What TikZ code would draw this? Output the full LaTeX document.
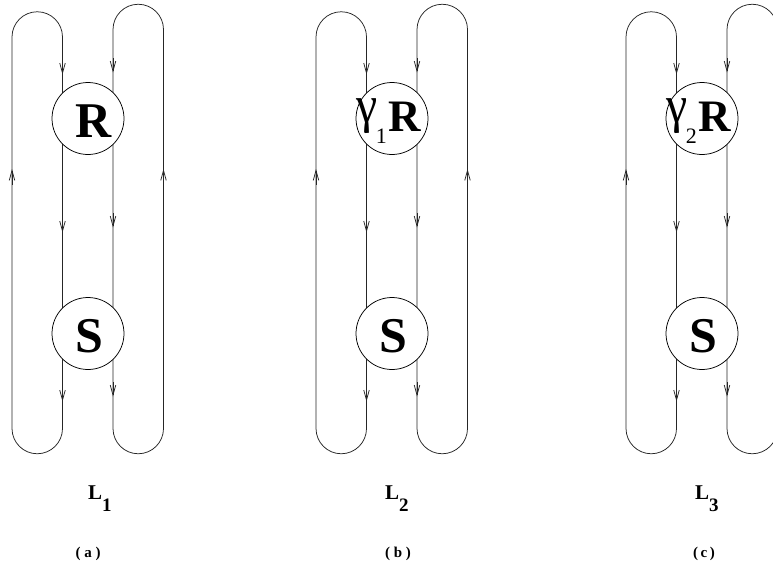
\documentclass[tikz,border=0pt]{standalone}
\usepackage{fontspec}
\usepackage{graphicx}
\setmainfont{Liberation Serif}
\usetikzlibrary{arrows.meta}
\tikzset{
  strand/.style={line width=0.75pt, draw=black!85},
  ring/.style={circle, draw=black, fill=white, minimum size=72pt, inner sep=0pt, line width=0.75pt},
  arrowmark/.style={line width=0.75pt, draw=black!85, -{Straight Barb[length=10pt,width=5.5pt]}},
  bigletter/.style={anchor=base, inner sep=0pt, font=\fontsize{50}{50}\selectfont\bfseries},
  gammatext/.style={anchor=base west, inner sep=0pt},
  looplabel/.style={anchor=base west, inner sep=0pt, font=\fontsize{21}{21}\selectfont\bfseries},
  panellabel/.style={anchor=base, inner sep=0pt, font=\fontsize{15}{15}\selectfont\bfseries}
}
\newcommand\gammaglyph{\raisebox{9pt}{\scalebox{0.92}[1]{\fontsize{52}{52}\selectfont γ}}}
\newcommand\drawstrands[2]{%
  % #1 = centre x of the panel, #2 = name prefix
  \coordinate (#2-lt) at (#1-76,37);
  \coordinate (#2-lb) at (#1-76,428.5);
  \coordinate (#2-il) at (#1-25.5,428.5);
  \coordinate (#2-rt) at (#1+25,29.5);
  \coordinate (#2-rb) at (#1+75.5,428.5);
  \draw[strand] (#2-lb) -- (#2-lt) arc[start angle=180,end angle=360,radius=25.25]
     -- (#2-il) arc[start angle=0,end angle=180,radius=25.25] -- cycle;
  \draw[strand] (#2-rt) arc[start angle=180,end angle=360,radius=25.25]
     -- (#2-rb) arc[start angle=0,end angle=180,radius=25.25] -- cycle;
  % arrows on the strands
  \draw[arrowmark] (#1-76,185) -- (#1-76,169);
  \draw[arrowmark] (#1+75.5,185) -- (#1+75.5,169);
  \draw[arrowmark] (#1-25.5,60) -- (#1-25.5,74.5);
  \draw[arrowmark] (#1+25,58) -- (#1+25,72.5);
  \draw[arrowmark] (#1-25.5,218) -- (#1-25.5,232.5);
  \draw[arrowmark] (#1+25,213) -- (#1+25,227.5);
  \draw[arrowmark] (#1-25.5,387) -- (#1-25.5,401.5);
  \draw[arrowmark] (#1+25,382) -- (#1+25,396.5);
  % the two discs
  \node[ring] (#2-R) at (#1,118.5) {};
  \node[ring] (#2-S) at (#1,333.5) {};
}
\begin{document}
\begin{tikzpicture}[x=1pt,y=-1pt]
\clip (0,0) rectangle (773,560);
\fill[white] (0,0) rectangle (773,560);

% panel (a)
\drawstrands{88}{a}
\node[bigletter] (a-Rt) at (94,137.3) {R};
\node[bigletter] (a-St) at (89.5,352) {S};
\node[looplabel] (a-L) at (88,499) {L\raisebox{-12pt}{\fontsize{19}{19}\selectfont 1}};
\node[panellabel] (a-cap) at (88,557) {( a )};

% panel (b)
\drawstrands{392}{b}
\node[gammatext] (b-Rt) at (356,131) {\gammaglyph\kern-1.5pt\raisebox{-12pt}{\fontsize{22}{22}\selectfont 1}\kern2pt{\fontsize{45}{45}\selectfont\bfseries R}};
\node[bigletter] (b-St) at (393.7,352.5) {S};
\node[looplabel] (b-L) at (385,499) {L\raisebox{-12pt}{\fontsize{19}{19}\selectfont 2}};
\node[panellabel] (b-cap) at (398,557) {( b )};

% panel (c)
\drawstrands{702}{c}
\node[gammatext] (c-Rt) at (666,131) {\gammaglyph\kern-1.5pt\raisebox{-12pt}{\fontsize{22}{22}\selectfont 2}\kern2pt{\fontsize{45}{45}\selectfont\bfseries R}};
\node[bigletter] (c-St) at (703.7,352.5) {S};
\node[looplabel] (c-L) at (695,499) {L\raisebox{-12pt}{\fontsize{19}{19}\selectfont 3}};
\node[panellabel] (c-cap) at (704,557) {(\,c\,)};
\end{tikzpicture}
\end{document}
